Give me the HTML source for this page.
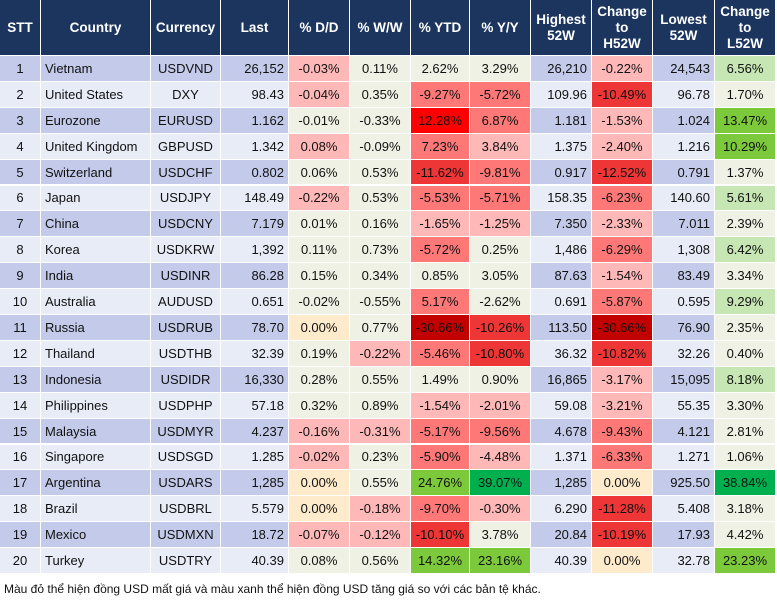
<!DOCTYPE html>
<html><head><meta charset="utf-8"><style>
body{margin:0;width:777px;height:602px;background:#fff;position:relative;overflow:hidden;font-family:"Liberation Sans",Arial,sans-serif;}
.c{position:absolute;box-sizing:border-box;font-size:13px;color:#111;display:flex;align-items:center;white-space:nowrap;}
.h{background:#1b355f;color:#fff;font-weight:bold;justify-content:center;text-align:center;line-height:16px;font-size:13.5px;}
.foot{position:absolute;left:4px;top:582px;font-size:12px;color:#111;}
</style></head><body>
<div class="foot">Màu đỏ thể hiện đồng USD mất giá và màu xanh thể hiện đồng USD tăng giá so với các bản tệ khác.</div>
<script>
const headers=["STT","Country","Currency","Last","% D/D","% W/W","% YTD","% Y/Y","Highest<br>52W","Change<br>to<br>H52W","Lowest<br>52W","Change<br>to<br>L52W"];
const countries=["Vietnam","United States","Eurozone","United Kingdom","Switzerland","Japan","China","Korea","India","Australia","Russia","Thailand","Indonesia","Philippines","Malaysia","Singapore","Argentina","Brazil","Mexico","Turkey"];
const currencies=["USDVND","DXY","EURUSD","GBPUSD","USDCHF","USDJPY","USDCNY","USDKRW","USDINR","AUDUSD","USDRUB","USDTHB","USDIDR","USDPHP","USDMYR","USDSGD","USDARS","USDBRL","USDMXN","USDTRY"];
const last=["26,152","98.43","1.162","1.342","0.802","148.49","7.179","1,392","86.28","0.651","78.70","32.39","16,330","57.18","4.237","1.285","1,285","5.579","18.72","40.39"];
const dd=["-0.03%","-0.04%","-0.01%","0.08%","0.06%","-0.22%","0.01%","0.11%","0.15%","-0.02%","0.00%","0.19%","0.28%","0.32%","-0.16%","-0.02%","0.00%","0.00%","-0.07%","0.08%"];
const ww=["0.11%","0.35%","-0.33%","-0.09%","0.53%","0.53%","0.16%","0.73%","0.34%","-0.55%","0.77%","-0.22%","0.55%","0.89%","-0.31%","0.23%","0.55%","-0.18%","-0.12%","0.56%"];
const ytd=["2.62%","-9.27%","12.28%","7.23%","-11.62%","-5.53%","-1.65%","-5.72%","0.85%","5.17%","-30.66%","-5.46%","1.49%","-1.54%","-5.17%","-5.90%","24.76%","-9.70%","-10.10%","14.32%"];
const yy=["3.29%","-5.72%","6.87%","3.84%","-9.81%","-5.71%","-1.25%","0.25%","3.05%","-2.62%","-10.26%","-10.80%","0.90%","-2.01%","-9.56%","-4.48%","39.07%","-0.30%","3.78%","23.16%"];
const high=["26,210","109.96","1.181","1.375","0.917","158.35","7.350","1,486","87.63","0.691","113.50","36.32","16,865","59.08","4.678","1.371","1,285","6.290","20.84","40.39"];
const chH=["-0.22%","-10.49%","-1.53%","-2.40%","-12.52%","-6.23%","-2.33%","-6.29%","-1.54%","-5.87%","-30.66%","-10.82%","-3.17%","-3.21%","-9.43%","-6.33%","0.00%","-11.28%","-10.19%","0.00%"];
const low=["24,543","96.78","1.024","1.216","0.791","140.60","7.011","1,308","83.49","0.595","76.90","32.26","15,095","55.35","4.121","1.271","925.50","5.408","17.93","32.78"];
const chL=["6.56%","1.70%","13.47%","10.29%","1.37%","5.61%","2.39%","6.42%","3.34%","9.29%","2.35%","0.40%","8.18%","3.30%","2.81%","1.06%","38.84%","3.18%","4.42%","23.23%"];
// color codes per row: DD, WW, YTD, YY, CH, CL
const heat=["r1 n n n r1 g1","r1 n r2 r2 r3 n","n n rr r2 r1 g3","r1 n r2 r1 r1 g3","n n r3 r2 r3 n","r1 n r2 r2 r2 g1","n n r1 r1 r1 n","n n r2 n r2 g1","n n n n r1 n","n n r2 n r2 g1","z n r4 r3 r4 n","n r1 r2 r3 r3 n","n n n n r1 g1","n n r1 r1 r1 n","r1 r1 r2 r2 r2 n","r1 n r2 r1 r2 n","z n g3 g4 z g4","z r1 r2 r1 r3 n","r1 r1 r3 n r3 n","n n g3 g3 z g3"];
const pal={n:"#eef1e4",z:"#fdebcc",r1:"#ffb8b8",r2:"#ff7878",r3:"#ee3636",r4:"#c20000",rr:"#ff0000",g1:"#c6e6b4",g2:"#a6da86",g3:"#7dc93c",g4:"#00b04e"};
const xs=[0,41,151,221,289,350,411,470,531,592,653,715,776];
const colNames=["stt","country","currency","last","pct-dd","pct-ww","pct-ytd","pct-yy","highest-52w","change-h52w","lowest-52w","change-l52w"];
function cell(x,y,w,h,bg,html,align,name){
  const d=document.createElement('div');
  d.className='c';
  d.style.cssText=`left:${x}px;top:${y}px;width:${w}px;height:${h}px;background:${bg};justify-content:${align};border-right:1px solid #fff;border-bottom:1px solid #fff;padding:0 4px;`;
  d.innerHTML=html;
  
  
  document.body.appendChild(d);return d;
}
headers.forEach((t,i)=>{
  const d=cell(xs[i],0,xs[i+1]-xs[i],56,'#1b355f',t,'center','header-'+colNames[i]);
  d.classList.add('h');
});
const rh=25.9;
countries.forEach((c,r)=>{
  const y=55+r*rh+1;
  const base=r%2===0?'#c4cbea':'#e7ecf7';
  const codes=heat[r].split(' ');
  const vals=[String(r+1),c,currencies[r],last[r],dd[r],ww[r],ytd[r],yy[r],high[r],chH[r],low[r],chL[r]];
  const aligns=['center','flex-start','center','flex-end','center','center','center','center','flex-end','center','flex-end','center'];
  const pctIdx={4:0,5:1,6:2,7:3,9:4,11:5};
  vals.forEach((v,i)=>{
    const bg=(i in pctIdx)?pal[codes[pctIdx[i]]]:base;
    cell(xs[i],y,xs[i+1]-xs[i],rh,bg,v,aligns[i],colNames[i]+'-row-'+(r+1));
  });
});
</script>
</body></html>
